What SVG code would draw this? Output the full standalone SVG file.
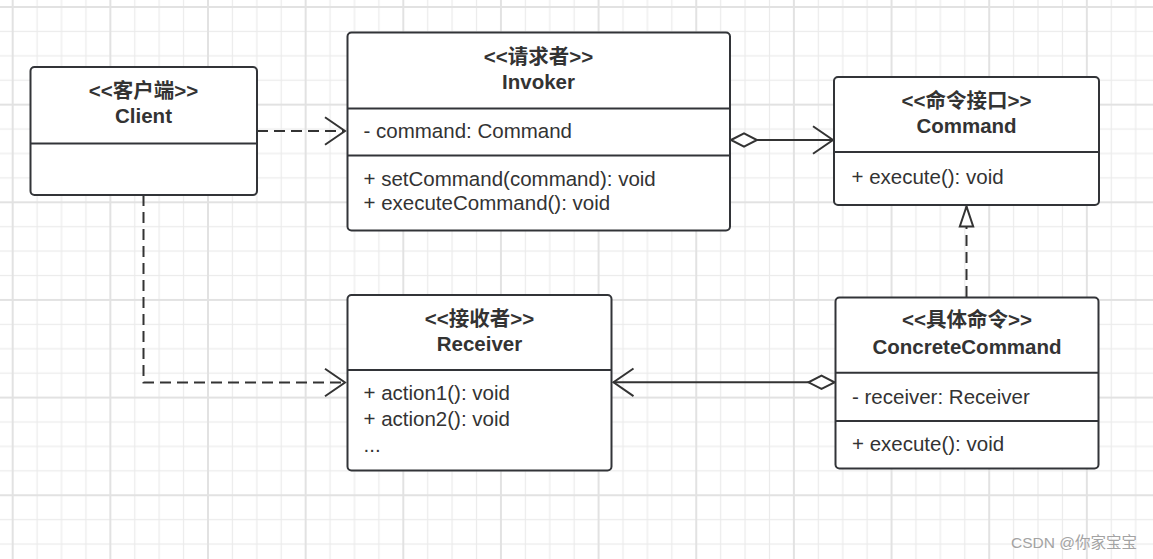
<svg xmlns="http://www.w3.org/2000/svg" width="1153" height="559" viewBox="0 0 1153 559">
  <style>
    .box { fill: #ffffff; stroke: #323438; stroke-width: 2; }
    .div { stroke: #323438; stroke-width: 2; }
    .t { font-family: "Liberation Sans", "Noto Sans CJK SC", sans-serif; font-size: 20.5px; fill: #333333; }
    .title { font-weight: bold; text-anchor: middle; }
    .conn { fill: none; stroke: #333333; stroke-width: 2; }
    .dash { stroke-dasharray: 11 6; }
    .wm { font-family: "Liberation Sans", "Noto Sans CJK SC", sans-serif; font-size: 15.5px; fill: #a3a3a3; text-anchor: end; }
  </style>
  <defs>
    <pattern id="grid" patternUnits="userSpaceOnUse" x="11.7" y="6" width="97.65" height="97.65">
      <rect x="24.81" y="0" width="1.2" height="97.65" fill="#ebebeb"/>
      <rect x="49.22" y="0" width="1.2" height="97.65" fill="#ebebeb"/>
      <rect x="73.64" y="0" width="1.2" height="97.65" fill="#ebebeb"/>
      <rect x="0" y="24.81" width="97.65" height="1.2" fill="#ebebeb"/>
      <rect x="0" y="49.22" width="97.65" height="1.2" fill="#ebebeb"/>
      <rect x="0" y="73.64" width="97.65" height="1.2" fill="#ebebeb"/>
      <rect x="0" y="0" width="2" height="97.65" fill="#e2e2e2"/>
      <rect x="0" y="0" width="97.65" height="2" fill="#e2e2e2"/>
    </pattern>
    <marker id="open" markerUnits="userSpaceOnUse" viewBox="-23 -17 26 34" refX="0" refY="0" markerWidth="26" markerHeight="34" orient="auto" overflow="visible">
      <path d="M-20,-13.8 L0,0 L-20,13.8" fill="none" stroke="#333333" stroke-width="2"/>
    </marker>
    <marker id="diamond" markerUnits="userSpaceOnUse" viewBox="-2 -9 30 18" refX="0" refY="0" markerWidth="30" markerHeight="18" orient="auto" overflow="visible">
      <path d="M0,0 L13,-6.7 L26,0 L13,6.7 Z" fill="#ffffff" stroke="#333333" stroke-width="2"/>
    </marker>
    <marker id="tri" markerUnits="userSpaceOnUse" viewBox="-23 -9 26 18" refX="0" refY="0" markerWidth="26" markerHeight="18" orient="auto" overflow="visible">
      <path d="M0,0 L-20,-6.7 L-20,6.7 Z" fill="#ffffff" stroke="#333333" stroke-width="2"/>
    </marker>
  </defs>

  <rect x="0" y="0" width="1153" height="559" fill="#ffffff"/>
  <rect x="0" y="0" width="1153" height="559" fill="url(#grid)"/>

  <g id="connectors">
    <path class="conn dash" d="M257,131 L345,131" marker-end="url(#open)"/>
    <path class="conn dash" d="M143.5,195 L143.5,382.5 L345,382.5" marker-end="url(#open)"/>
    <path class="conn" d="M731,140 L833,140" marker-start="url(#diamond)" marker-end="url(#open)"/>
    <path class="conn dash" d="M966.5,297 L966.5,206.5" marker-end="url(#tri)"/>
    <path class="conn" d="M834.5,382.3 L613.5,382.3" marker-start="url(#diamond)" marker-end="url(#open)"/>
  </g>

  <g id="client">
    <rect class="box" x="30.5" y="67" width="226.5" height="128" rx="4"/>
    <line class="div" x1="30.5" y1="143.5" x2="257" y2="143.5"/>
    <text class="t title" x="143.5" y="98">&lt;&lt;客户端&gt;&gt;</text>
    <text class="t title" x="143.5" y="123">Client</text>
  </g>

  <g id="invoker">
    <rect class="box" x="347.5" y="32.5" width="382.5" height="198" rx="4"/>
    <line class="div" x1="347.5" y1="108.5" x2="730" y2="108.5"/>
    <line class="div" x1="347.5" y1="155.5" x2="730" y2="155.5"/>
    <text class="t title" x="538.5" y="64">&lt;&lt;请求者&gt;&gt;</text>
    <text class="t title" x="538.5" y="89">Invoker</text>
    <text class="t" x="363.5" y="138">- command: Command</text>
    <text class="t" x="363.5" y="186">+ setCommand(command): void</text>
    <text class="t" x="363.5" y="210">+ executeCommand(): void</text>
  </g>

  <g id="command">
    <rect class="box" x="834" y="77" width="265" height="128" rx="4"/>
    <line class="div" x1="834" y1="152" x2="1099" y2="152"/>
    <text class="t title" x="966.5" y="108">&lt;&lt;命令接口&gt;&gt;</text>
    <text class="t title" x="966.5" y="133">Command</text>
    <text class="t" x="851.5" y="184">+ execute(): void</text>
  </g>

  <g id="receiver">
    <rect class="box" x="347.5" y="295" width="264" height="175.5" rx="4"/>
    <line class="div" x1="347.5" y1="370" x2="611.5" y2="370"/>
    <text class="t title" x="479.5" y="326">&lt;&lt;接收者&gt;&gt;</text>
    <text class="t title" x="479.5" y="351">Receiver</text>
    <text class="t" x="363.5" y="400">+ action1(): void</text>
    <text class="t" x="363.5" y="426">+ action2(): void</text>
    <text class="t" x="363.5" y="452">...</text>
  </g>

  <g id="concretecommand">
    <rect class="box" x="835.5" y="297.5" width="263" height="171" rx="4"/>
    <line class="div" x1="835.5" y1="372.7" x2="1098.5" y2="372.7"/>
    <line class="div" x1="835.5" y1="421" x2="1098.5" y2="421"/>
    <text class="t title" x="967" y="327">&lt;&lt;具体命令&gt;&gt;</text>
    <text class="t title" x="967" y="354">ConcreteCommand</text>
    <text class="t" x="852" y="404">- receiver: Receiver</text>
    <text class="t" x="852" y="451">+ execute(): void</text>
  </g>

  <text class="wm" x="1137" y="548">CSDN @你家宝宝</text>
</svg>
